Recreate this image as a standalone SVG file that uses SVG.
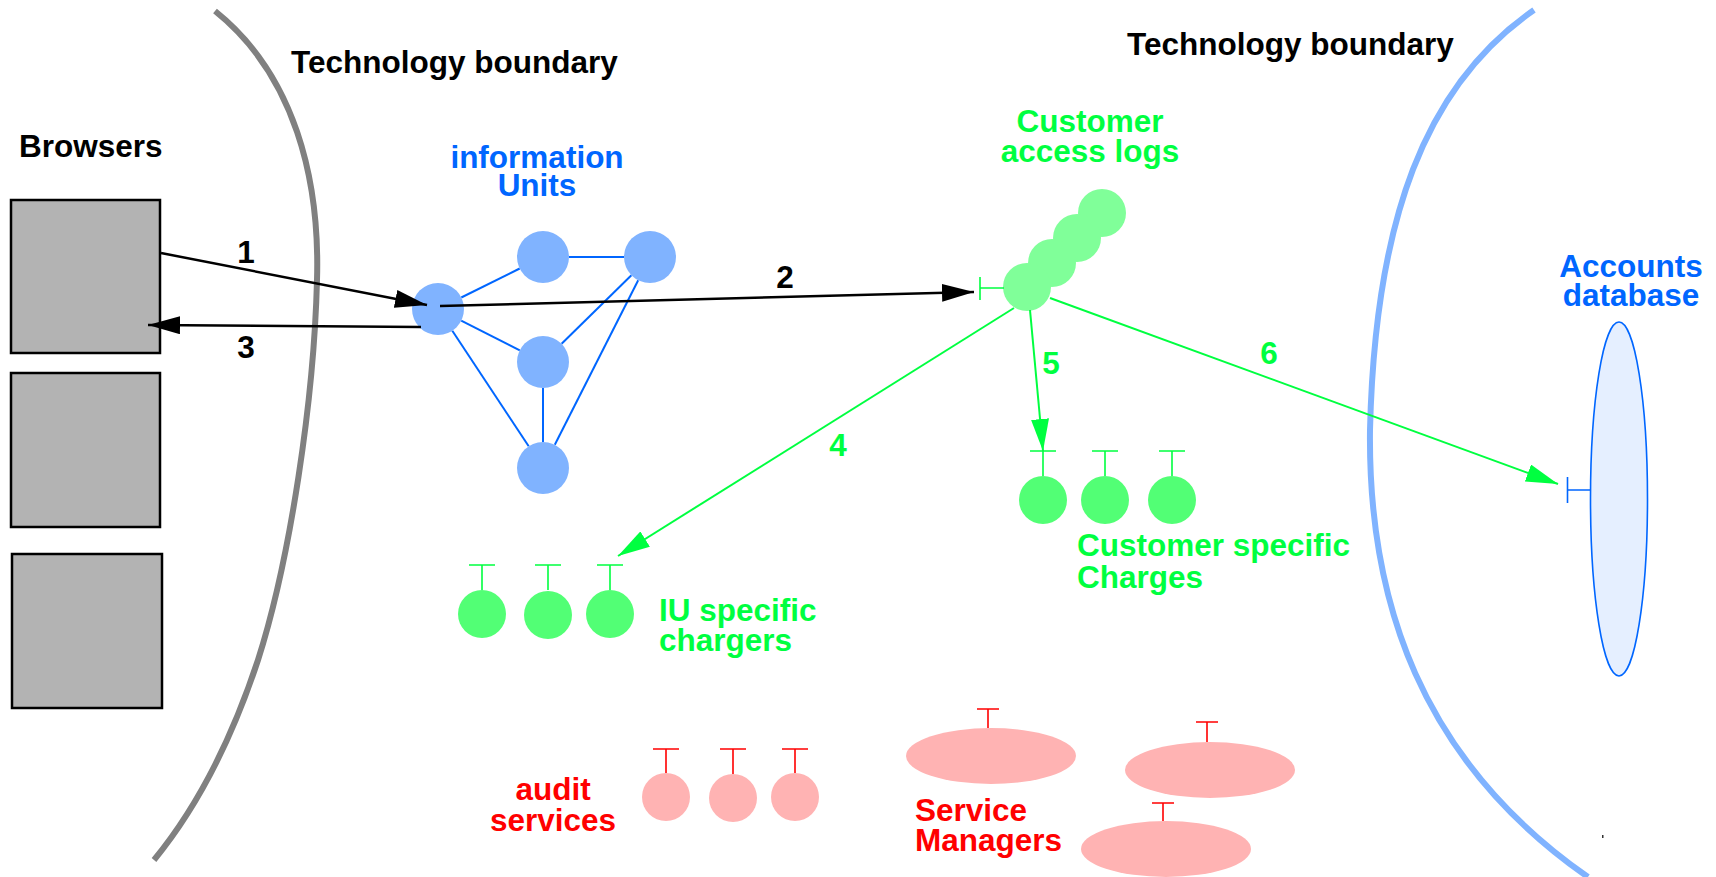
<svg xmlns="http://www.w3.org/2000/svg" width="1716" height="877" viewBox="0 0 1716 877">
<style>
text{font-family:"Liberation Sans",Arial,sans-serif;font-weight:bold;font-size:31.5px}
.k{fill:#000}
.b{fill:#0066ff}
.g{fill:#00ff40}
.r{fill:#ff0000}
.mid{text-anchor:middle}
.box{fill:#b3b3b3;stroke:#000;stroke-width:2.5}
.iu{fill:#80b3ff}
.log{fill:#80ff99}
.chg{fill:#52ff75}
.aud{fill:#ffb3b3}
.tg{stroke:#00ff40;stroke-width:1.6;fill:none}
.tr{stroke:#ff0000;stroke-width:1.6;fill:none}
.tb{stroke:#0066ff;stroke-width:1.6;fill:none}
.bl{stroke:#0066ff;stroke-width:2;fill:none}
.ak{stroke:#000;stroke-width:2.5;fill:none;marker-end:url(#ak)}
.ag{stroke:#00ff40;stroke-width:2;fill:none;marker-end:url(#ag)}
</style>
<defs>
<marker id="ak" markerUnits="userSpaceOnUse" viewBox="0 0 32 18" markerWidth="32" markerHeight="18" refX="32" refY="9" orient="auto"><path d="M0,0 L32,9 L0,18 z" fill="#000"/></marker>
<marker id="ag" markerUnits="userSpaceOnUse" viewBox="0 0 32 18" markerWidth="32" markerHeight="18" refX="32" refY="9" orient="auto"><path d="M0,0 L32,9 L0,18 z" fill="#00ff40"/></marker>
</defs>
<rect width="1716" height="877" fill="#fff"/>

<g id="boundary-left">
<path d="M215,11 C295,75 320,180 317,280 C314,400 290,560 258,660 C230,745 195,810 154,860" fill="none" stroke="#808080" stroke-width="6"/>
<text class="k" x="291" y="73">Technology boundary</text>
</g>
<g id="boundary-right">
<path d="M1534,10 C1425,85 1375,220 1370,430 C1368,600 1420,760 1588,877" fill="none" stroke="#80b3ff" stroke-width="6"/>
<text class="k" x="1127" y="55">Technology boundary</text>
</g>

<g id="browsers">
<text class="k" x="19" y="157">Browsers</text>
<rect class="box" x="11" y="200" width="149" height="153"/>
<rect class="box" x="11" y="373" width="149" height="154"/>
<rect class="box" x="12" y="554" width="150" height="154"/>
</g>

<g id="connectors">
<line class="bl" x1="461.3" y1="297.5" x2="519.7" y2="268.5"/>
<line class="bl" x1="569" y1="257" x2="624" y2="257"/>
<line class="bl" x1="461.2" y1="320.7" x2="519.8" y2="350.3"/>
<line class="bl" x1="631.4" y1="275.2" x2="561.6" y2="343.8"/>
<line class="bl" x1="452.3" y1="330.7" x2="528.7" y2="446.3"/>
<line class="bl" x1="543" y1="388" x2="543" y2="442"/>
<line class="bl" x1="638.2" y1="280.2" x2="554.8" y2="444.8"/>
</g>

<g id="information-units">
<text class="b mid" x="537" y="168">information</text>
<text class="b mid" x="537" y="196">Units</text>
<circle class="iu" cx="438" cy="309" r="26"/>
<circle class="iu" cx="543" cy="257" r="26"/>
<circle class="iu" cx="650" cy="257" r="26"/>
<circle class="iu" cx="543" cy="362" r="26"/>
<circle class="iu" cx="543" cy="468" r="26"/>
</g>

<g id="customer-access-logs">
<text class="g mid" x="1090" y="132">Customer</text>
<text class="g mid" x="1090" y="162">access logs</text>
<circle class="log" cx="1102" cy="213" r="24"/>
<circle class="log" cx="1077" cy="238" r="24"/>
<circle class="log" cx="1052" cy="263" r="24"/>
<circle class="log" cx="1027" cy="287" r="24"/>
<path class="tg" d="M980,277 V300 M980,288 H1004"/>
</g>

<g id="accounts-database">
<text class="b mid" x="1631" y="277">Accounts</text>
<text class="b mid" x="1631" y="306">database</text>
<ellipse cx="1619" cy="499" rx="28.5" ry="177" fill="#e5efff" stroke="#0066ff" stroke-width="1.6"/>
<path class="tb" d="M1567.5,477 V503 M1567.5,490 H1590.5"/>
</g>

<g id="customer-specific-charges">
<path class="tg" d="M1030,451 H1056 M1043,451 V476 M1092,451 H1118 M1105,451 V476 M1159,451 H1185 M1172,451 V476"/>
<circle class="chg" cx="1043" cy="500" r="24"/>
<circle class="chg" cx="1105" cy="500" r="24"/>
<circle class="chg" cx="1172" cy="500" r="24"/>
<text class="g" x="1077" y="556">Customer specific</text>
<text class="g" x="1077" y="588">Charges</text>
</g>

<g id="iu-specific-chargers">
<path class="tg" d="M469,565 H495 M482,565 V590 M535,565 H561 M548,565 V590 M597,565 H623 M610,565 V590"/>
<circle class="chg" cx="482" cy="614" r="24"/>
<circle class="chg" cx="548" cy="615" r="24"/>
<circle class="chg" cx="610" cy="614" r="24"/>
<text class="g" x="659" y="621">IU specific</text>
<text class="g" x="659" y="651">chargers</text>
</g>

<g id="audit-services">
<text class="r mid" x="553" y="800">audit</text>
<text class="r mid" x="553" y="831">services</text>
<path class="tr" d="M653,749 H679 M666,749 V773 M720,749 H746 M733,749 V774 M782,749 H808 M795,749 V773"/>
<circle class="aud" cx="666" cy="797" r="24"/>
<circle class="aud" cx="733" cy="798" r="24"/>
<circle class="aud" cx="795" cy="797" r="24"/>
</g>

<g id="service-managers">
<path class="tr" d="M977,709 H999 M988,709 V728 M1196,722 H1218 M1207,722 V742 M1152,803 H1174 M1163,803 V821"/>
<ellipse class="aud" cx="991" cy="756" rx="85" ry="28"/>
<ellipse class="aud" cx="1210" cy="770" rx="85" ry="28"/>
<ellipse class="aud" cx="1166" cy="849" rx="85" ry="28"/>
<text class="r" x="915" y="821">Service</text>
<text class="r" x="915" y="851">Managers</text>
</g>

<g id="flows">
<path class="ak" d="M161,253 L427,305"/>
<path class="ak" d="M440,306 L974,292"/>
<path class="ak" d="M421,327 L148,325"/>
<path class="ag" d="M1014,308 L618,556"/>
<path class="ag" d="M1030,310 L1043,451"/>
<path class="ag" d="M1050,298 L1558,484"/>
<text class="k mid" x="246" y="263">1</text>
<text class="k mid" x="785" y="288">2</text>
<text class="k mid" x="246" y="358">3</text>
<text class="g mid" x="838" y="456">4</text>
<text class="g mid" x="1051" y="374">5</text>
<text class="g mid" x="1269" y="364">6</text>
</g>

<rect x="1602" y="835" width="1.5" height="3" fill="#333"/>
</svg>
